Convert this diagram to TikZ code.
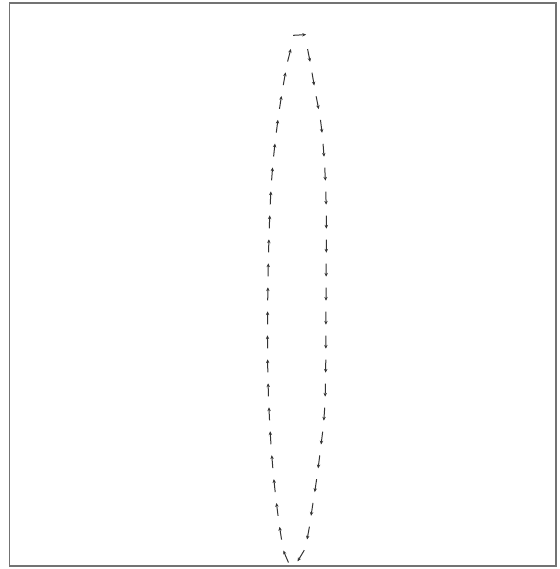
\documentclass[tikz,border=0pt]{standalone}
\usetikzlibrary{arrows.meta,decorations.markings}
\begin{document}
\begin{tikzpicture}[x=1pt,y=1pt,
  frame/.style={draw=black!55,line width=1.3pt},
  flowmarks/.style={decoration={markings,
     mark=between positions 12pt and -8pt step 24pt with {
       \draw[black!80,line width=1pt,-{Stealth[length=3.8pt,width=3.4pt]}] (-6.5pt,0) -- (6.5pt,0);}},
     postaction={decorate}}]
\useasboundingbox (0,0) rectangle (559,-569);
\fill[white] (0,0) rectangle (559,-569);
\draw[frame] (9.5,-3) rectangle (556,-566);
\path[flowmarks] plot[smooth,tension=0.6] coordinates {
  (293,-566) (283,-547) (273,-470) (268,-380) (268,-280) (271,-190)
  (277,-127) (286,-70) (293,-43) (299,-35) (306,-43) (315,-90) (322,-133)
  (326,-200) (326,-300) (325,-400) (320,-453) (313,-503) (305,-547) (293,-566)};
\end{tikzpicture}
\end{document}
